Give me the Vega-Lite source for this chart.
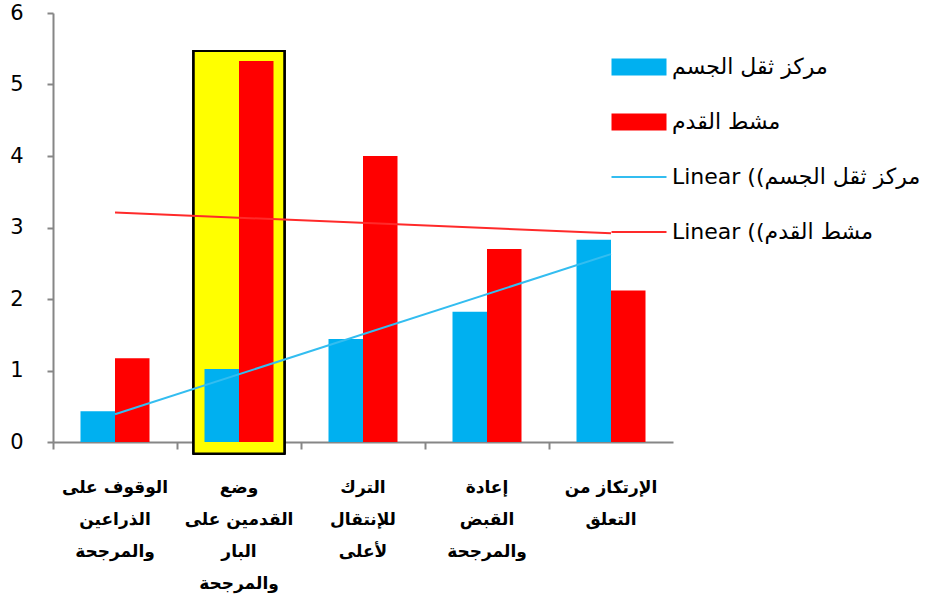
{
  "$schema": "https://vega.github.io/schema/vega-lite/v6.json",
  "width": 620,
  "height": 429,
  "autosize": "none",
  "padding": {"left": 53, "top": 13, "right": 263, "bottom": 172},
  "background": "white",
  "config": {"view": {"stroke": null}},
  "datasets": {
    "bars": [
      {"cat": "الوقوف على|الذراعين|والمرجحة", "idx": 1, "series": "مركز ثقل الجسم", "trend": "Linear ((مركز ثقل الجسم", "value": 0.43},
      {"cat": "الوقوف على|الذراعين|والمرجحة", "idx": 1, "series": "مشط القدم", "trend": "Linear ((مشط القدم", "value": 1.17},
      {"cat": "وضع|القدمين على|البار|والمرجحة", "idx": 2, "series": "مركز ثقل الجسم", "trend": "Linear ((مركز ثقل الجسم", "value": 1.02},
      {"cat": "وضع|القدمين على|البار|والمرجحة", "idx": 2, "series": "مشط القدم", "trend": "Linear ((مشط القدم", "value": 5.33},
      {"cat": "الترك|للإنتقال|لأعلى", "idx": 3, "series": "مركز ثقل الجسم", "trend": "Linear ((مركز ثقل الجسم", "value": 1.44},
      {"cat": "الترك|للإنتقال|لأعلى", "idx": 3, "series": "مشط القدم", "trend": "Linear ((مشط القدم", "value": 4.0},
      {"cat": "إعادة|القبض|والمرجحة", "idx": 4, "series": "مركز ثقل الجسم", "trend": "Linear ((مركز ثقل الجسم", "value": 1.82},
      {"cat": "إعادة|القبض|والمرجحة", "idx": 4, "series": "مشط القدم", "trend": "Linear ((مشط القدم", "value": 2.7},
      {"cat": "الإرتكاز من|التعلق", "idx": 5, "series": "مركز ثقل الجسم", "trend": "Linear ((مركز ثقل الجسم", "value": 2.83},
      {"cat": "الإرتكاز من|التعلق", "idx": 5, "series": "مشط القدم", "trend": "Linear ((مشط القدم", "value": 2.12}
    ]
  },
  "data": {"name": "bars"},
  "encoding": {
    "x": {
      "field": "cat",
      "type": "nominal",
      "sort": null,
      "scale": {
        "domain": ["الوقوف على|الذراعين|والمرجحة", "وضع|القدمين على|البار|والمرجحة", "الترك|للإنتقال|لأعلى", "إعادة|القبض|والمرجحة", "الإرتكاز من|التعلق"],
        "paddingInner": 0,
        "paddingOuter": 0
      },
      "axis": {
        "title": null,
        "labelAngle": 0,
        "bandPosition": 0,
        "labelExpr": "split(datum.label, '|')",
        "labelFont": "DejaVu Sans",
        "labelFontWeight": "bold",
        "labelFontSize": 17,
        "labelLineHeight": 32,
        "labelColor": "#000000",
        "labelBaseline": "top",
        "labelPadding": 30,
        "labelLimit": 200,
        "tickSize": 7,
        "tickColor": "#868686",
        "tickWidth": 2,
        "domainColor": "#868686",
        "domainWidth": 2,
        "grid": false
      }
    },
    "y": {
      "type": "quantitative",
      "scale": {"domain": [0, 6], "nice": false},
      "axis": {
        "title": null,
        "values": [0, 1, 2, 3, 4, 5, 6],
        "labelFont": "DejaVu Sans",
        "labelFontSize": 21,
        "labelColor": "#000000",
        "labelPadding": 24,
        "tickSize": 6,
        "tickColor": "#868686",
        "tickWidth": 2,
        "domainColor": "#868686",
        "domainWidth": 2,
        "grid": false
      }
    }
  },
  "layer": [
    {
      "mark": {"type": "bar", "fill": "#FFFF00", "stroke": "#000000", "strokeWidth": 2, "width": {"band": 0.73}},
      "encoding": {
        "x": {"datum": "وضع|القدمين على|البار|والمرجحة", "type": "nominal"},
        "y": {"datum": 5.47, "type": "quantitative"},
        "y2": {"datum": -0.16}
      }
    },
    {
      "mark": {"type": "bar"},
      "encoding": {
        "y": {"field": "value", "type": "quantitative"},
        "xOffset": {"field": "series", "type": "nominal", "sort": null, "scale": {"domain": ["مركز ثقل الجسم", "مشط القدم"], "paddingInner": 0, "paddingOuter": 0.797}},
        "color": {
          "field": "series",
          "type": "nominal",
          "scale": {
            "domain": ["مركز ثقل الجسم", "مشط القدم", "Linear ((مركز ثقل الجسم", "Linear ((مشط القدم"],
            "range": ["#00B0F0", "#FF0000", "#33BDF0", "#FF2A2A"]
          },
          "legend": {
            "orient": "none",
            "legendX": 575,
            "legendY": 43,
            "title": null,
            "symbolSize": 3025,
            "labelFont": "DejaVu Sans",
            "labelFontSize": 22,
            "labelColor": "#000000",
            "labelOffset": 22,
            "labelLimit": 400,
            "rowPadding": 33,
            "encode": {
              "symbols": {
                "update": {
                  "shape": {"signal": "datum.index < 2 ? 'M-1,-0.31H1V0.31H-1Z' : 'M-1,0H1'"},
                  "fill": {"signal": "datum.index < 2 ? scale('color', datum.value) : 'transparent'"},
                  "stroke": {"signal": "scale('color', datum.value)"},
                  "strokeWidth": {"signal": "datum.index < 2 ? 0 : 2"},
                  "opacity": {"value": 1}
                }
              }
            }
          }
        }
      }
    },
    {
      "transform": [
        {"regression": "value", "on": "idx", "groupby": ["trend"], "method": "linear", "extent": [1, 5]},
        {"lookup": "idx", "from": {"data": {"name": "bars"}, "key": "idx", "fields": ["cat"]}}
      ],
      "mark": {"type": "line", "strokeWidth": 2},
      "encoding": {
        "y": {"field": "value", "type": "quantitative"},
        "color": {"field": "trend", "type": "nominal"},
        "detail": {"field": "trend"}
      }
    }
  ]
}
